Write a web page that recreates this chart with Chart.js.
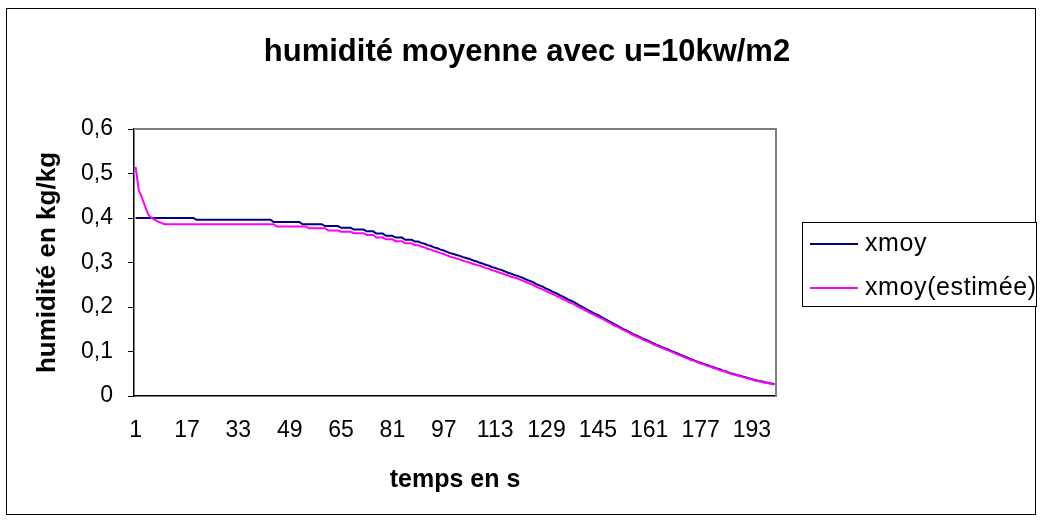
<!DOCTYPE html>
<html>
<head>
<meta charset="utf-8">
<script src="https://cdn.jsdelivr.net/npm/chart.js@4"></script>
<style>
  body { margin: 0; background: #fff; }
  #wrap { position: relative; width: 1042px; height: 524px; }
</style>
</head>
<body>
<div id="wrap"><canvas id="humidity-chart" width="1042" height="524"></canvas></div>
<script>
const chartTitle = 'humidité moyenne avec u=10kw/m2';
const xTitle = 'temps en s';
const yTitle = 'humidité en kg/kg';
const seriesNames = ['xmoy', 'xmoy(estimée)'];

// temps en s : 1 .. 200
const categories = Array.from({length: 200}, (_, i) => String(i + 1));
const xTickLabels = ['1','17','33','49','65','81','97','113','129','145','161','177','193'];
const yTickLabels = ['0','0,1','0,2','0,3','0,4','0,5','0,6'];

const xmoy = [
  0.400,0.400,0.400,0.400,0.400,0.400,0.400,0.400,0.400,0.400,
  0.400,0.400,0.400,0.400,0.400,0.400,0.400,0.400,0.400,0.396,
  0.396,0.396,0.396,0.396,0.396,0.396,0.396,0.396,0.396,0.396,
  0.396,0.396,0.396,0.396,0.396,0.396,0.396,0.396,0.396,0.396,
  0.396,0.396,0.396,0.391,0.391,0.391,0.391,0.391,0.391,0.391,
  0.391,0.391,0.386,0.386,0.386,0.386,0.386,0.386,0.386,0.382,
  0.382,0.382,0.382,0.382,0.378,0.378,0.378,0.378,0.374,0.374,
  0.374,0.374,0.370,0.370,0.370,0.365,0.365,0.365,0.360,0.360,
  0.360,0.356,0.356,0.356,0.351,0.351,0.351,0.347,0.347,0.344,
  0.342,0.339,0.337,0.334,0.332,0.329,0.327,0.324,0.321,0.319,
  0.317,0.315,0.312,0.310,0.308,0.305,0.303,0.300,0.298,0.295,
  0.293,0.290,0.288,0.285,0.283,0.280,0.277,0.275,0.272,0.270,
  0.267,0.264,0.261,0.258,0.255,0.251,0.248,0.245,0.241,0.238,
  0.234,0.231,0.227,0.224,0.220,0.216,0.213,0.209,0.205,0.201,
  0.197,0.193,0.189,0.185,0.182,0.178,0.174,0.170,0.166,0.162,
  0.158,0.154,0.150,0.147,0.143,0.139,0.136,0.133,0.129,0.126,
  0.123,0.119,0.116,0.113,0.110,0.107,0.104,0.101,0.098,0.095,
  0.092,0.089,0.086,0.083,0.080,0.077,0.075,0.072,0.070,0.067,
  0.065,0.062,0.060,0.057,0.055,0.052,0.050,0.048,0.046,0.044,
  0.042,0.040,0.038,0.036,0.034,0.033,0.031,0.030,0.028,0.027
];

const xmoyEstimee = [
  0.515,0.462,0.445,0.425,0.407,0.400,0.396,0.392,0.389,0.386,
  0.386,0.386,0.386,0.386,0.386,0.386,0.386,0.386,0.386,0.386,
  0.386,0.386,0.386,0.386,0.386,0.386,0.386,0.386,0.386,0.386,
  0.386,0.386,0.386,0.386,0.386,0.386,0.386,0.386,0.386,0.386,
  0.386,0.386,0.386,0.386,0.381,0.381,0.381,0.381,0.381,0.381,
  0.381,0.381,0.381,0.381,0.377,0.377,0.377,0.377,0.377,0.377,
  0.372,0.372,0.372,0.372,0.369,0.369,0.369,0.369,0.366,0.366,
  0.366,0.366,0.362,0.362,0.362,0.356,0.356,0.356,0.352,0.352,
  0.352,0.348,0.348,0.348,0.343,0.343,0.343,0.339,0.339,0.336,
  0.334,0.331,0.329,0.326,0.324,0.321,0.319,0.316,0.313,0.311,
  0.309,0.307,0.304,0.302,0.300,0.297,0.295,0.293,0.291,0.288,
  0.286,0.283,0.281,0.278,0.276,0.273,0.271,0.268,0.266,0.264,
  0.261,0.258,0.255,0.252,0.249,0.245,0.242,0.239,0.235,0.232,
  0.229,0.225,0.222,0.218,0.215,0.211,0.208,0.204,0.200,0.197,
  0.193,0.189,0.185,0.182,0.178,0.175,0.171,0.167,0.163,0.159,
  0.156,0.152,0.148,0.145,0.141,0.137,0.134,0.131,0.127,0.124,
  0.121,0.117,0.114,0.111,0.108,0.105,0.102,0.099,0.096,0.093,
  0.090,0.087,0.084,0.081,0.079,0.076,0.073,0.071,0.068,0.066,
  0.063,0.061,0.058,0.056,0.054,0.051,0.049,0.047,0.045,0.043,
  0.041,0.039,0.037,0.035,0.033,0.032,0.030,0.029,0.027,0.026
];

const FONT = "'Liberation Sans', Arial, sans-serif";

// frame, title, plot border and legend box, Excel style
const excelDecor = {
  id: 'excelDecor',
  beforeDatasetsDraw(chart) {
    const {ctx, chartArea: a} = chart;
    ctx.save();
    ctx.strokeStyle = '#808080';
    ctx.lineWidth = 2;
    ctx.beginPath();
    ctx.moveTo(a.left, a.top);
    ctx.lineTo(a.right, a.top);
    ctx.lineTo(a.right, a.bottom);
    ctx.stroke();
    ctx.restore();
  },
  afterDraw(chart) {
    const ctx = chart.ctx;
    ctx.save();
    // outer frame
    ctx.strokeStyle = '#000';
    ctx.lineWidth = 1;
    ctx.strokeRect(6.5, 8.5, 1029, 506);

    // title
    ctx.fillStyle = '#000';
    ctx.font = 'bold 31px ' + FONT;
    ctx.textAlign = 'center';
    ctx.textBaseline = 'middle';
    ctx.fillText(chartTitle, 527, 52);

    // legend
    ctx.fillStyle = '#fff';
    ctx.fillRect(802, 222, 235, 84);
    ctx.strokeRect(802.5, 222.5, 234, 84);
    ctx.font = '25px ' + FONT;
    ctx.letterSpacing = '0.6px';
    ctx.textAlign = 'left';
    chart.data.datasets.forEach((ds, i) => {
      const y = 244 + i * 44;
      ctx.strokeStyle = ds.borderColor;
      ctx.lineWidth = 2;
      ctx.beginPath();
      ctx.moveTo(810, y);
      ctx.lineTo(858, y);
      ctx.stroke();
      ctx.fillStyle = '#000';
      ctx.fillText(ds.label, 865, y);
    });
    ctx.restore();
  }
};

new Chart(document.getElementById('humidity-chart'), {
  type: 'line',
  data: {
    labels: categories,
    datasets: [
      {
        label: seriesNames[0],
        data: xmoy,
        borderColor: '#000080',
        borderWidth: 2,
        pointRadius: 0,
        tension: 0,
        order: 1
      },
      {
        label: seriesNames[1],
        data: xmoyEstimee,
        borderColor: '#FF00FF',
        borderWidth: 2,
        pointRadius: 0,
        tension: 0,
        order: 0
      }
    ]
  },
  options: {
    responsive: false,
    animation: false,
    layout: { padding: { top: 129, right: 266, bottom: 0, left: 0 } },
    plugins: {
      legend: { display: false },
      title: { display: false },
      tooltip: { enabled: false }
    },
    scales: {
      x: {
        type: 'category',
        offset: true,
        grid: { display: false, drawTicks: false },
        border: { display: true, color: '#000', width: 1.5 },
        ticks: {
          autoSkip: false,
          maxRotation: 0,
          padding: 21,
          color: '#000',
          font: { family: FONT, size: 23 },
          callback: function(value) {
            const lab = this.getLabelForValue(value);
            return xTickLabels.includes(lab) ? lab : null;
          }
        },
        title: {
          display: true,
          text: xTitle,
          color: '#000',
          font: { family: FONT, size: 25, weight: 'bold' },
          padding: { top: 29, bottom: 29 }
        },
        afterFit(scale) { scale.height = 128; }
      },
      y: {
        min: 0,
        max: 0.6,
        ticks: {
          stepSize: 0.1,
          padding: 15,
          color: '#000',
          font: { family: FONT, size: 23 },
          callback: (v) => yTickLabels[Math.round(v * 10)]
        },
        grid: { drawOnChartArea: false, drawTicks: true, tickLength: 6, color: '#000' },
        border: { display: true, color: '#000', width: 1.5 },
        title: {
          display: true,
          text: yTitle,
          color: '#000',
          font: { family: FONT, size: 26, weight: 'bold' },
          padding: { top: 32, bottom: 0 }
        },
        afterFit(scale) { scale.width = 134; }
      }
    }
  },
  plugins: [excelDecor]
});
</script>
</body>
</html>
